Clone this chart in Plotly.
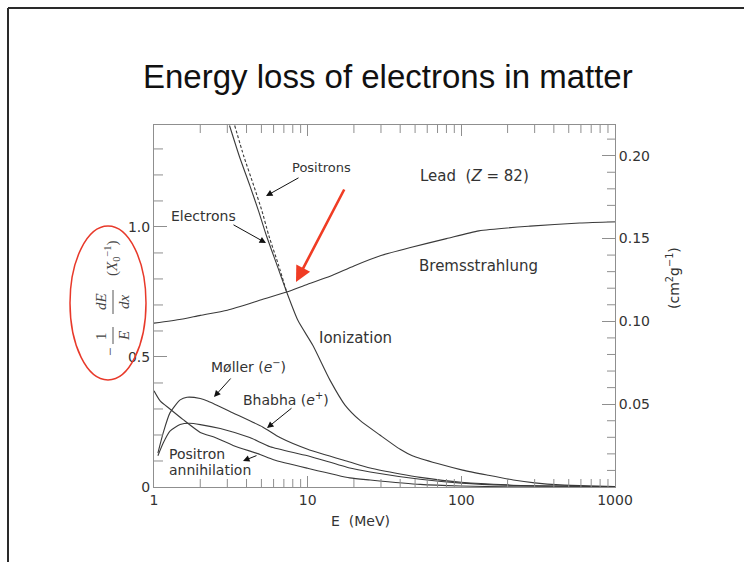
import math
import plotly.graph_objects as go

# ---------------- data ----------------
X0_LEAD = 6.37  # g/cm^2, radiation length of lead -> right axis = left / X0

E_brems = [1, 1.5, 2, 3, 5, 7.3, 10, 14, 20, 30, 46, 80, 130, 280, 590, 1000]
brems = [0.63, 0.645, 0.66, 0.68, 0.72, 0.75, 0.78, 0.81, 0.85, 0.89, 0.92, 0.955, 0.985, 1.003, 1.015, 1.02]

E_ion_e = [3.1, 3.6, 4.2, 4.8, 5.4, 6.3, 7.3, 8.65, 10.8, 14, 17.5, 22, 29.5, 40, 48, 70, 102, 150, 218, 300, 440, 700, 1000]
ion_e = [1.39, 1.27, 1.16, 1.06, 0.965, 0.855, 0.75, 0.64, 0.545, 0.41, 0.315, 0.255, 0.20, 0.145, 0.12, 0.09, 0.065, 0.045, 0.027, 0.016, 0.008, 0.004, 0.002]

E_ion_p = [3.35, 3.85, 4.45, 5.05, 5.6, 6.45, 7.3]
ion_p = [1.39, 1.27, 1.16, 1.06, 0.965, 0.855, 0.75]

E_moller = [1.06, 1.15, 1.27, 1.48, 1.64, 2.0, 2.25, 3.27, 5.12, 6.6, 10, 18.8, 25.5, 40, 54, 100, 200, 400, 1000]
moller = [0.13, 0.21, 0.285, 0.335, 0.345, 0.34, 0.33, 0.285, 0.23, 0.19, 0.145, 0.096, 0.073, 0.05, 0.037, 0.018, 0.008, 0.004, 0.002]

E_bhabha = [1.06, 1.15, 1.27, 1.48, 1.7, 2.0, 2.7, 4.2, 5.7, 10, 18.8, 25.5, 54, 100, 200, 1000]
bhabha = [0.12, 0.17, 0.215, 0.24, 0.245, 0.24, 0.225, 0.19, 0.155, 0.12, 0.073, 0.058, 0.03, 0.015, 0.007, 0.002]

E_annih = [1.0, 1.1, 1.27, 1.54, 2.0, 2.5, 3.27, 4.9, 6.0, 10, 18.8, 25.5, 54, 100, 200, 1000]
annih = [0.37, 0.33, 0.30, 0.26, 0.21, 0.19, 0.16, 0.125, 0.105, 0.072, 0.035, 0.027, 0.01, 0.004, 0.001, 0.0]

x_ticks = [1, 10, 100, 1000]
x_ticktext = ["1", "10", "100", "1000"]
x_minor = [m * d for d in (1, 10, 100) for m in range(2, 10)]
y_ticks = [0, 0.5, 1.0]
y_ticktext = ["0", "0.5", "1.0"]
y_minor = [round(0.1 * i, 2) for i in range(1, 14) if i not in (5, 10)]
y2_ticks = [0.05, 0.10, 0.15, 0.20]
y2_ticktext = ["0.05", "0.10", "0.15", "0.20"]
y2_minor = [round(0.01 * i, 2) for i in range(1, 22) if i % 5 != 0]
Y_MAX = 1.392

# ---------------- layout geometry ----------------
W, H = 744, 562
L, R, T, B = 154, 615, 125, 487
PW, PH = R - L, B - T
Y2_MAX = Y_MAX / X0_LEAD


def px(x):
    return (x - L) / PW


def py(y):
    return (B - y) / PH


LINE = "#3a3a3a"
AX = "#8f8f8f"
TXT = "#333333"
SANS = "DejaVu Sans"
SERIF = "Liberation Serif"

fig = go.Figure()


def curve(E, v, dash="solid"):
    fig.add_trace(go.Scatter(
        x=E, y=v, mode="lines",
        line=dict(color=LINE, width=1.1, dash=dash, shape="spline", smoothing=0.6),
        showlegend=False, hoverinfo="skip"))


curve(E_brems, brems)
curve(E_ion_e, ion_e)
curve(E_ion_p, ion_p, dash="3px,2px")
curve(E_moller, moller)
curve(E_bhabha, bhabha)
curve(E_annih, annih)

# ---- minor tick marks (inside), built from the minor tick value lists ----
tick_h_y = 8.0 * Y_MAX / PH          # 8 px in left-axis units
tick_x_left = 10 ** (9.0 * 3 / PW)    # 9 px right of E=1
tick_x_right = 10 ** (3 - 8.0 * 3 / PW)  # 8 px left of E=1000

mx, my = [], []
for v in x_minor:
    mx += [v, v, None, v, v, None]
    my += [0, tick_h_y, None, Y_MAX, Y_MAX - tick_h_y, None]
for v in y_minor:
    mx += [1, tick_x_left, None]
    my += [v, v, None]
fig.add_trace(go.Scatter(x=mx, y=my, mode="lines", line=dict(color=AX, width=1),
                         connectgaps=False, showlegend=False, hoverinfo="skip", cliponaxis=False))

m2x, m2y = [], []
for v in y2_minor:
    m2x += [tick_x_right, 1000, None]
    m2y += [v, v, None]
fig.add_trace(go.Scatter(x=m2x, y=m2y, yaxis="y2", mode="lines", line=dict(color=AX, width=1),
                         connectgaps=False, showlegend=False, hoverinfo="skip", cliponaxis=False))

annotations = []


def text(x, y, s, size=14, family=SANS, angle=0, xanchor="center", align="center", color=TXT):
    annotations.append(dict(x=px(x), y=py(y), xref="paper", yref="paper", text=s,
                            showarrow=False, textangle=angle, xanchor=xanchor,
                            yanchor="middle", align=align,
                            font=dict(size=size, family=family, color=color)))


def arrow(tail, tip, color="#111111", width=1.0, head=2, size=1.3):
    annotations.append(dict(x=px(tip[0]), y=py(tip[1]), xref="paper", yref="paper",
                            ax=tail[0] - tip[0], ay=tail[1] - tip[1],
                            axref="pixel", ayref="pixel", text="",
                            showarrow=True, arrowhead=head, arrowsize=size,
                            arrowwidth=width, arrowcolor=color, standoff=0, startstandoff=0))


# title
text(388, 77, "Energy loss of electrons in matter", size=33, family="Liberation Sans", color="#111111")

# curve labels
text(321, 167, "Positrons", size=13)
text(203, 216, "Electrons", size=14)
text(474, 176, "Lead  (<i>Z</i> = 82)", size=15)
text(478, 266, "Bremsstrahlung", size=15)
text(355, 338, "Ionization", size=15)
text(248, 366, "Møller (<i>e</i><sup>−</sup>)", size=14)
text(286, 399, "Bhabha (<i>e</i><sup>+</sup>)", size=14)
text(167, 454, "Positron", size=14, xanchor="left", align="left")
text(167, 470, "annihilation", size=14, xanchor="left", align="left")

# black pointer arrows
arrow((300, 177), (266, 196))
arrow((232, 224), (266, 243))
arrow((232, 377), (214, 397))
arrow((293, 407), (267, 428))
arrow((258, 455), (243, 461))

# red arrow
arrow((345, 188), (296, 282), color="#f03c24", width=2.6, head=2, size=1.2)

# left axis title (rotated fraction), right axis title, x title
text(110, 352, "−", size=15, family=SERIF, angle=-90, color="#444444")
text(101, 336, "1", size=15, family=SERIF, angle=-90, color="#444444")
text(124, 336, "<i>E</i>", size=15, family=SERIF, angle=-90, color="#444444")
text(101, 302, "<i>dE</i>", size=15, family=SERIF, angle=-90, color="#444444")
text(124, 302, "<i>dx</i>", size=15, family=SERIF, angle=-90, color="#444444")
text(112, 258, "(<i>X</i><sub>0</sub><sup>−1</sup>)", size=15, family=SERIF, angle=-90, color="#444444")
text(673, 278, "(cm<sup>2</sup>g<sup>−1</sup>)", size=14, angle=-90)
text(360, 521, "E  (MeV)", size=14)

shapes = [
    # fraction bars
    dict(type="line", xref="paper", yref="paper", x0=px(113), x1=px(113), y0=py(327), y1=py(344),
         line=dict(color="#555555", width=1)),
    dict(type="line", xref="paper", yref="paper", x0=px(113), x1=px(113), y0=py(290), y1=py(314),
         line=dict(color="#555555", width=1)),
    # red ellipse
    dict(type="circle", xref="paper", yref="paper", x0=px(70), x1=px(146), y0=py(380), y1=py(226),
         line=dict(color="#e8392a", width=1.5)),
    # slide frame
    dict(type="line", xref="paper", yref="paper", x0=px(8), x1=px(8), y0=py(8), y1=py(570),
         line=dict(color="#2a2a2a", width=2)),
    dict(type="line", xref="paper", yref="paper", x0=px(8), x1=px(750), y0=py(8), y1=py(8),
         line=dict(color="#2a2a2a", width=2)),
]

axis_common = dict(showline=True, linecolor=AX, linewidth=1, ticks="inside",
                   tickcolor=AX, tickwidth=1, showgrid=False, zeroline=False,
                   tickfont=dict(size=14, family=SANS, color=TXT))

fig.update_layout(
    width=W, height=H, autosize=False,
    margin=dict(l=L, r=W - R, t=T, b=H - B, pad=0),
    paper_bgcolor="white", plot_bgcolor="white",
    showlegend=False,
    xaxis=dict(type="log", range=[0, 3], tickmode="array", tickvals=x_ticks, ticktext=x_ticktext,
               ticklen=11, mirror="ticks", **axis_common),
    yaxis=dict(range=[0, Y_MAX], tickmode="array", tickvals=y_ticks, ticktext=y_ticktext,
               ticklen=13, **axis_common),
    yaxis2=dict(range=[0, Y2_MAX], overlaying="y", side="right", anchor="x",
                tickmode="array", tickvals=y2_ticks, ticktext=y2_ticktext, ticklen=13,
                **axis_common),
    annotations=annotations,
    shapes=shapes,
)

fig.write_html("out.html")
